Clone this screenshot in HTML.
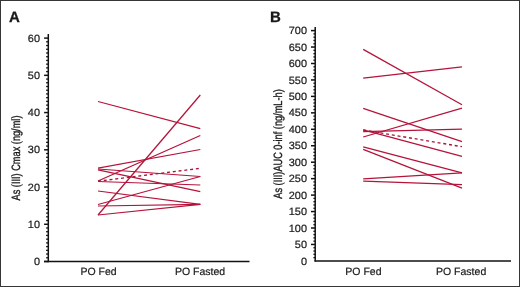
<!DOCTYPE html>
<html><head><meta charset="utf-8"><style>
html,body{margin:0;padding:0;background:#fff;}
body{width:520px;height:287px;overflow:hidden;}
svg{display:block;will-change:transform;}
text{font-family:"Liberation Sans", sans-serif;}
</style></head><body>
<svg width="520" height="287" viewBox="0 0 520 287" text-rendering="geometricPrecision">
<rect x="0" y="0" width="520" height="287" fill="#fff"/>
<rect x="0.5" y="0.5" width="519" height="286" fill="none" stroke="#363636" stroke-width="1"/>

<line x1="48.3" y1="34.0" x2="48.3" y2="262.2" stroke="#111" stroke-width="1.5"/>
<line x1="44.0" y1="261.5" x2="249.5" y2="261.5" stroke="#111" stroke-width="1.5"/>
<line x1="46.1" y1="257.78" x2="48.3" y2="257.78" stroke="#111" stroke-width="1.3"/>
<line x1="46.1" y1="254.05" x2="48.3" y2="254.05" stroke="#111" stroke-width="1.3"/>
<line x1="46.1" y1="250.33" x2="48.3" y2="250.33" stroke="#111" stroke-width="1.3"/>
<line x1="46.1" y1="246.61" x2="48.3" y2="246.61" stroke="#111" stroke-width="1.3"/>
<line x1="46.1" y1="242.88" x2="48.3" y2="242.88" stroke="#111" stroke-width="1.3"/>
<line x1="46.1" y1="239.16" x2="48.3" y2="239.16" stroke="#111" stroke-width="1.3"/>
<line x1="46.1" y1="235.44" x2="48.3" y2="235.44" stroke="#111" stroke-width="1.3"/>
<line x1="46.1" y1="231.71" x2="48.3" y2="231.71" stroke="#111" stroke-width="1.3"/>
<line x1="46.1" y1="227.99" x2="48.3" y2="227.99" stroke="#111" stroke-width="1.3"/>
<line x1="46.1" y1="220.54" x2="48.3" y2="220.54" stroke="#111" stroke-width="1.3"/>
<line x1="46.1" y1="216.82" x2="48.3" y2="216.82" stroke="#111" stroke-width="1.3"/>
<line x1="46.1" y1="213.10" x2="48.3" y2="213.10" stroke="#111" stroke-width="1.3"/>
<line x1="46.1" y1="209.37" x2="48.3" y2="209.37" stroke="#111" stroke-width="1.3"/>
<line x1="46.1" y1="205.65" x2="48.3" y2="205.65" stroke="#111" stroke-width="1.3"/>
<line x1="46.1" y1="201.93" x2="48.3" y2="201.93" stroke="#111" stroke-width="1.3"/>
<line x1="46.1" y1="198.20" x2="48.3" y2="198.20" stroke="#111" stroke-width="1.3"/>
<line x1="46.1" y1="194.48" x2="48.3" y2="194.48" stroke="#111" stroke-width="1.3"/>
<line x1="46.1" y1="190.76" x2="48.3" y2="190.76" stroke="#111" stroke-width="1.3"/>
<line x1="46.1" y1="183.31" x2="48.3" y2="183.31" stroke="#111" stroke-width="1.3"/>
<line x1="46.1" y1="179.59" x2="48.3" y2="179.59" stroke="#111" stroke-width="1.3"/>
<line x1="46.1" y1="175.86" x2="48.3" y2="175.86" stroke="#111" stroke-width="1.3"/>
<line x1="46.1" y1="172.14" x2="48.3" y2="172.14" stroke="#111" stroke-width="1.3"/>
<line x1="46.1" y1="168.42" x2="48.3" y2="168.42" stroke="#111" stroke-width="1.3"/>
<line x1="46.1" y1="164.69" x2="48.3" y2="164.69" stroke="#111" stroke-width="1.3"/>
<line x1="46.1" y1="160.97" x2="48.3" y2="160.97" stroke="#111" stroke-width="1.3"/>
<line x1="46.1" y1="157.25" x2="48.3" y2="157.25" stroke="#111" stroke-width="1.3"/>
<line x1="46.1" y1="153.52" x2="48.3" y2="153.52" stroke="#111" stroke-width="1.3"/>
<line x1="46.1" y1="146.08" x2="48.3" y2="146.08" stroke="#111" stroke-width="1.3"/>
<line x1="46.1" y1="142.35" x2="48.3" y2="142.35" stroke="#111" stroke-width="1.3"/>
<line x1="46.1" y1="138.63" x2="48.3" y2="138.63" stroke="#111" stroke-width="1.3"/>
<line x1="46.1" y1="134.91" x2="48.3" y2="134.91" stroke="#111" stroke-width="1.3"/>
<line x1="46.1" y1="131.18" x2="48.3" y2="131.18" stroke="#111" stroke-width="1.3"/>
<line x1="46.1" y1="127.46" x2="48.3" y2="127.46" stroke="#111" stroke-width="1.3"/>
<line x1="46.1" y1="123.74" x2="48.3" y2="123.74" stroke="#111" stroke-width="1.3"/>
<line x1="46.1" y1="120.01" x2="48.3" y2="120.01" stroke="#111" stroke-width="1.3"/>
<line x1="46.1" y1="116.29" x2="48.3" y2="116.29" stroke="#111" stroke-width="1.3"/>
<line x1="46.1" y1="108.84" x2="48.3" y2="108.84" stroke="#111" stroke-width="1.3"/>
<line x1="46.1" y1="105.12" x2="48.3" y2="105.12" stroke="#111" stroke-width="1.3"/>
<line x1="46.1" y1="101.40" x2="48.3" y2="101.40" stroke="#111" stroke-width="1.3"/>
<line x1="46.1" y1="97.67" x2="48.3" y2="97.67" stroke="#111" stroke-width="1.3"/>
<line x1="46.1" y1="93.95" x2="48.3" y2="93.95" stroke="#111" stroke-width="1.3"/>
<line x1="46.1" y1="90.23" x2="48.3" y2="90.23" stroke="#111" stroke-width="1.3"/>
<line x1="46.1" y1="86.50" x2="48.3" y2="86.50" stroke="#111" stroke-width="1.3"/>
<line x1="46.1" y1="82.78" x2="48.3" y2="82.78" stroke="#111" stroke-width="1.3"/>
<line x1="46.1" y1="79.06" x2="48.3" y2="79.06" stroke="#111" stroke-width="1.3"/>
<line x1="46.1" y1="71.61" x2="48.3" y2="71.61" stroke="#111" stroke-width="1.3"/>
<line x1="46.1" y1="67.89" x2="48.3" y2="67.89" stroke="#111" stroke-width="1.3"/>
<line x1="46.1" y1="64.16" x2="48.3" y2="64.16" stroke="#111" stroke-width="1.3"/>
<line x1="46.1" y1="60.44" x2="48.3" y2="60.44" stroke="#111" stroke-width="1.3"/>
<line x1="46.1" y1="56.72" x2="48.3" y2="56.72" stroke="#111" stroke-width="1.3"/>
<line x1="46.1" y1="52.99" x2="48.3" y2="52.99" stroke="#111" stroke-width="1.3"/>
<line x1="46.1" y1="49.27" x2="48.3" y2="49.27" stroke="#111" stroke-width="1.3"/>
<line x1="46.1" y1="45.55" x2="48.3" y2="45.55" stroke="#111" stroke-width="1.3"/>
<line x1="46.1" y1="41.82" x2="48.3" y2="41.82" stroke="#111" stroke-width="1.3"/>
<line x1="44.1" y1="261.50" x2="48.3" y2="261.50" stroke="#111" stroke-width="1.5"/>
<line x1="44.1" y1="224.27" x2="48.3" y2="224.27" stroke="#111" stroke-width="1.5"/>
<line x1="44.1" y1="187.03" x2="48.3" y2="187.03" stroke="#111" stroke-width="1.5"/>
<line x1="44.1" y1="149.80" x2="48.3" y2="149.80" stroke="#111" stroke-width="1.5"/>
<line x1="44.1" y1="112.57" x2="48.3" y2="112.57" stroke="#111" stroke-width="1.5"/>
<line x1="44.1" y1="75.33" x2="48.3" y2="75.33" stroke="#111" stroke-width="1.5"/>
<line x1="44.1" y1="38.10" x2="48.3" y2="38.10" stroke="#111" stroke-width="1.5"/>
<text transform="translate(40.0,265.10) scale(1.04,1)" font-size="10.5" text-anchor="end" fill="#1a1a1a" stroke="#1a1a1a" stroke-width="0.2">0</text>
<text transform="translate(40.0,227.87) scale(1.04,1)" font-size="10.5" text-anchor="end" fill="#1a1a1a" stroke="#1a1a1a" stroke-width="0.2">10</text>
<text transform="translate(40.0,190.63) scale(1.04,1)" font-size="10.5" text-anchor="end" fill="#1a1a1a" stroke="#1a1a1a" stroke-width="0.2">20</text>
<text transform="translate(40.0,153.40) scale(1.04,1)" font-size="10.5" text-anchor="end" fill="#1a1a1a" stroke="#1a1a1a" stroke-width="0.2">30</text>
<text transform="translate(40.0,116.17) scale(1.04,1)" font-size="10.5" text-anchor="end" fill="#1a1a1a" stroke="#1a1a1a" stroke-width="0.2">40</text>
<text transform="translate(40.0,78.93) scale(1.04,1)" font-size="10.5" text-anchor="end" fill="#1a1a1a" stroke="#1a1a1a" stroke-width="0.2">50</text>
<text transform="translate(40.0,41.70) scale(1.04,1)" font-size="10.5" text-anchor="end" fill="#1a1a1a" stroke="#1a1a1a" stroke-width="0.2">60</text>
<line x1="315.2" y1="27.0" x2="315.2" y2="261.59999999999997" stroke="#111" stroke-width="1.5"/>
<line x1="314.5" y1="260.9" x2="511.0" y2="260.9" stroke="#111" stroke-width="1.5"/>
<line x1="313.4" y1="257.61" x2="315.2" y2="257.61" stroke="#111" stroke-width="1.3"/>
<line x1="313.4" y1="254.32" x2="315.2" y2="254.32" stroke="#111" stroke-width="1.3"/>
<line x1="313.4" y1="251.03" x2="315.2" y2="251.03" stroke="#111" stroke-width="1.3"/>
<line x1="313.4" y1="247.74" x2="315.2" y2="247.74" stroke="#111" stroke-width="1.3"/>
<line x1="313.4" y1="241.16" x2="315.2" y2="241.16" stroke="#111" stroke-width="1.3"/>
<line x1="313.4" y1="237.87" x2="315.2" y2="237.87" stroke="#111" stroke-width="1.3"/>
<line x1="313.4" y1="234.58" x2="315.2" y2="234.58" stroke="#111" stroke-width="1.3"/>
<line x1="313.4" y1="231.29" x2="315.2" y2="231.29" stroke="#111" stroke-width="1.3"/>
<line x1="313.4" y1="224.71" x2="315.2" y2="224.71" stroke="#111" stroke-width="1.3"/>
<line x1="313.4" y1="221.42" x2="315.2" y2="221.42" stroke="#111" stroke-width="1.3"/>
<line x1="313.4" y1="218.13" x2="315.2" y2="218.13" stroke="#111" stroke-width="1.3"/>
<line x1="313.4" y1="214.84" x2="315.2" y2="214.84" stroke="#111" stroke-width="1.3"/>
<line x1="313.4" y1="208.26" x2="315.2" y2="208.26" stroke="#111" stroke-width="1.3"/>
<line x1="313.4" y1="204.97" x2="315.2" y2="204.97" stroke="#111" stroke-width="1.3"/>
<line x1="313.4" y1="201.68" x2="315.2" y2="201.68" stroke="#111" stroke-width="1.3"/>
<line x1="313.4" y1="198.39" x2="315.2" y2="198.39" stroke="#111" stroke-width="1.3"/>
<line x1="313.4" y1="191.81" x2="315.2" y2="191.81" stroke="#111" stroke-width="1.3"/>
<line x1="313.4" y1="188.52" x2="315.2" y2="188.52" stroke="#111" stroke-width="1.3"/>
<line x1="313.4" y1="185.23" x2="315.2" y2="185.23" stroke="#111" stroke-width="1.3"/>
<line x1="313.4" y1="181.94" x2="315.2" y2="181.94" stroke="#111" stroke-width="1.3"/>
<line x1="313.4" y1="175.36" x2="315.2" y2="175.36" stroke="#111" stroke-width="1.3"/>
<line x1="313.4" y1="172.07" x2="315.2" y2="172.07" stroke="#111" stroke-width="1.3"/>
<line x1="313.4" y1="168.78" x2="315.2" y2="168.78" stroke="#111" stroke-width="1.3"/>
<line x1="313.4" y1="165.49" x2="315.2" y2="165.49" stroke="#111" stroke-width="1.3"/>
<line x1="313.4" y1="158.91" x2="315.2" y2="158.91" stroke="#111" stroke-width="1.3"/>
<line x1="313.4" y1="155.62" x2="315.2" y2="155.62" stroke="#111" stroke-width="1.3"/>
<line x1="313.4" y1="152.33" x2="315.2" y2="152.33" stroke="#111" stroke-width="1.3"/>
<line x1="313.4" y1="149.04" x2="315.2" y2="149.04" stroke="#111" stroke-width="1.3"/>
<line x1="313.4" y1="142.46" x2="315.2" y2="142.46" stroke="#111" stroke-width="1.3"/>
<line x1="313.4" y1="139.17" x2="315.2" y2="139.17" stroke="#111" stroke-width="1.3"/>
<line x1="313.4" y1="135.88" x2="315.2" y2="135.88" stroke="#111" stroke-width="1.3"/>
<line x1="313.4" y1="132.59" x2="315.2" y2="132.59" stroke="#111" stroke-width="1.3"/>
<line x1="313.4" y1="126.01" x2="315.2" y2="126.01" stroke="#111" stroke-width="1.3"/>
<line x1="313.4" y1="122.72" x2="315.2" y2="122.72" stroke="#111" stroke-width="1.3"/>
<line x1="313.4" y1="119.43" x2="315.2" y2="119.43" stroke="#111" stroke-width="1.3"/>
<line x1="313.4" y1="116.14" x2="315.2" y2="116.14" stroke="#111" stroke-width="1.3"/>
<line x1="313.4" y1="109.56" x2="315.2" y2="109.56" stroke="#111" stroke-width="1.3"/>
<line x1="313.4" y1="106.27" x2="315.2" y2="106.27" stroke="#111" stroke-width="1.3"/>
<line x1="313.4" y1="102.98" x2="315.2" y2="102.98" stroke="#111" stroke-width="1.3"/>
<line x1="313.4" y1="99.69" x2="315.2" y2="99.69" stroke="#111" stroke-width="1.3"/>
<line x1="313.4" y1="93.11" x2="315.2" y2="93.11" stroke="#111" stroke-width="1.3"/>
<line x1="313.4" y1="89.82" x2="315.2" y2="89.82" stroke="#111" stroke-width="1.3"/>
<line x1="313.4" y1="86.53" x2="315.2" y2="86.53" stroke="#111" stroke-width="1.3"/>
<line x1="313.4" y1="83.24" x2="315.2" y2="83.24" stroke="#111" stroke-width="1.3"/>
<line x1="313.4" y1="76.66" x2="315.2" y2="76.66" stroke="#111" stroke-width="1.3"/>
<line x1="313.4" y1="73.37" x2="315.2" y2="73.37" stroke="#111" stroke-width="1.3"/>
<line x1="313.4" y1="70.08" x2="315.2" y2="70.08" stroke="#111" stroke-width="1.3"/>
<line x1="313.4" y1="66.79" x2="315.2" y2="66.79" stroke="#111" stroke-width="1.3"/>
<line x1="313.4" y1="60.21" x2="315.2" y2="60.21" stroke="#111" stroke-width="1.3"/>
<line x1="313.4" y1="56.92" x2="315.2" y2="56.92" stroke="#111" stroke-width="1.3"/>
<line x1="313.4" y1="53.63" x2="315.2" y2="53.63" stroke="#111" stroke-width="1.3"/>
<line x1="313.4" y1="50.34" x2="315.2" y2="50.34" stroke="#111" stroke-width="1.3"/>
<line x1="313.4" y1="43.76" x2="315.2" y2="43.76" stroke="#111" stroke-width="1.3"/>
<line x1="313.4" y1="40.47" x2="315.2" y2="40.47" stroke="#111" stroke-width="1.3"/>
<line x1="313.4" y1="37.18" x2="315.2" y2="37.18" stroke="#111" stroke-width="1.3"/>
<line x1="313.4" y1="33.89" x2="315.2" y2="33.89" stroke="#111" stroke-width="1.3"/>
<line x1="311.0" y1="244.45" x2="315.2" y2="244.45" stroke="#111" stroke-width="1.5"/>
<line x1="311.0" y1="228.00" x2="315.2" y2="228.00" stroke="#111" stroke-width="1.5"/>
<line x1="311.0" y1="211.55" x2="315.2" y2="211.55" stroke="#111" stroke-width="1.5"/>
<line x1="311.0" y1="195.10" x2="315.2" y2="195.10" stroke="#111" stroke-width="1.5"/>
<line x1="311.0" y1="178.65" x2="315.2" y2="178.65" stroke="#111" stroke-width="1.5"/>
<line x1="311.0" y1="162.20" x2="315.2" y2="162.20" stroke="#111" stroke-width="1.5"/>
<line x1="311.0" y1="145.75" x2="315.2" y2="145.75" stroke="#111" stroke-width="1.5"/>
<line x1="311.0" y1="129.30" x2="315.2" y2="129.30" stroke="#111" stroke-width="1.5"/>
<line x1="311.0" y1="112.85" x2="315.2" y2="112.85" stroke="#111" stroke-width="1.5"/>
<line x1="311.0" y1="96.40" x2="315.2" y2="96.40" stroke="#111" stroke-width="1.5"/>
<line x1="311.0" y1="79.95" x2="315.2" y2="79.95" stroke="#111" stroke-width="1.5"/>
<line x1="311.0" y1="63.50" x2="315.2" y2="63.50" stroke="#111" stroke-width="1.5"/>
<line x1="311.0" y1="47.05" x2="315.2" y2="47.05" stroke="#111" stroke-width="1.5"/>
<line x1="311.0" y1="30.60" x2="315.2" y2="30.60" stroke="#111" stroke-width="1.5"/>
<text transform="translate(307.0,264.50) scale(1.04,1)" font-size="10.5" text-anchor="end" fill="#1a1a1a" stroke="#1a1a1a" stroke-width="0.2">0</text>
<text transform="translate(307.0,248.05) scale(1.04,1)" font-size="10.5" text-anchor="end" fill="#1a1a1a" stroke="#1a1a1a" stroke-width="0.2">50</text>
<text transform="translate(307.0,231.60) scale(1.04,1)" font-size="10.5" text-anchor="end" fill="#1a1a1a" stroke="#1a1a1a" stroke-width="0.2">100</text>
<text transform="translate(307.0,215.15) scale(1.04,1)" font-size="10.5" text-anchor="end" fill="#1a1a1a" stroke="#1a1a1a" stroke-width="0.2">150</text>
<text transform="translate(307.0,198.70) scale(1.04,1)" font-size="10.5" text-anchor="end" fill="#1a1a1a" stroke="#1a1a1a" stroke-width="0.2">200</text>
<text transform="translate(307.0,182.25) scale(1.04,1)" font-size="10.5" text-anchor="end" fill="#1a1a1a" stroke="#1a1a1a" stroke-width="0.2">250</text>
<text transform="translate(307.0,165.80) scale(1.04,1)" font-size="10.5" text-anchor="end" fill="#1a1a1a" stroke="#1a1a1a" stroke-width="0.2">300</text>
<text transform="translate(307.0,149.35) scale(1.04,1)" font-size="10.5" text-anchor="end" fill="#1a1a1a" stroke="#1a1a1a" stroke-width="0.2">350</text>
<text transform="translate(307.0,132.90) scale(1.04,1)" font-size="10.5" text-anchor="end" fill="#1a1a1a" stroke="#1a1a1a" stroke-width="0.2">400</text>
<text transform="translate(307.0,116.45) scale(1.04,1)" font-size="10.5" text-anchor="end" fill="#1a1a1a" stroke="#1a1a1a" stroke-width="0.2">450</text>
<text transform="translate(307.0,100.00) scale(1.04,1)" font-size="10.5" text-anchor="end" fill="#1a1a1a" stroke="#1a1a1a" stroke-width="0.2">500</text>
<text transform="translate(307.0,83.55) scale(1.04,1)" font-size="10.5" text-anchor="end" fill="#1a1a1a" stroke="#1a1a1a" stroke-width="0.2">550</text>
<text transform="translate(307.0,67.10) scale(1.04,1)" font-size="10.5" text-anchor="end" fill="#1a1a1a" stroke="#1a1a1a" stroke-width="0.2">600</text>
<text transform="translate(307.0,50.65) scale(1.04,1)" font-size="10.5" text-anchor="end" fill="#1a1a1a" stroke="#1a1a1a" stroke-width="0.2">650</text>
<text transform="translate(307.0,34.20) scale(1.04,1)" font-size="10.5" text-anchor="end" fill="#1a1a1a" stroke="#1a1a1a" stroke-width="0.2">700</text>
<text x="9" y="21.9" font-size="15" font-weight="bold" fill="#1a1a1a" stroke="#1a1a1a" stroke-width="0.3">A</text>
<text x="270" y="21.9" font-size="15" font-weight="bold" fill="#1a1a1a" stroke="#1a1a1a" stroke-width="0.3">B</text>
<text x="80.54" y="274.5" font-size="10.5" fill="#1a1a1a" stroke="#1a1a1a" stroke-width="0.2">PO Fed</text>
<text x="174.94" y="274.5" font-size="10.5" fill="#1a1a1a" stroke="#1a1a1a" stroke-width="0.2">PO Fasted</text>
<text x="345.34" y="274.5" font-size="10.5" fill="#1a1a1a" stroke="#1a1a1a" stroke-width="0.2">PO Fed</text>
<text x="436.04" y="274.5" font-size="10.5" fill="#1a1a1a" stroke="#1a1a1a" stroke-width="0.2">PO Fasted</text>
<text transform="translate(19.7,158) rotate(-90) scale(0.767,1)" font-size="12" text-anchor="middle" fill="#1a1a1a" stroke="#1a1a1a" stroke-width="0.35">As (III) Cmax (ng/ml)</text>
<text transform="translate(281.7,144) rotate(-90) scale(0.767,1)" font-size="12" text-anchor="middle" fill="#1a1a1a" stroke="#1a1a1a" stroke-width="0.35">As (III)AUC 0-inf (ng/mL-h)</text>
<line x1="98.0" y1="101.5" x2="200.3" y2="128.6" stroke="#b5133a" stroke-width="1.25"/>
<line x1="98.0" y1="215" x2="200.3" y2="95" stroke="#b5133a" stroke-width="1.25"/>
<line x1="98.0" y1="168.2" x2="200.3" y2="149.5" stroke="#b5133a" stroke-width="1.25"/>
<line x1="98.0" y1="169" x2="200.3" y2="176.5" stroke="#b5133a" stroke-width="1.25"/>
<line x1="98.0" y1="169.8" x2="200.3" y2="191.6" stroke="#b5133a" stroke-width="1.25"/>
<line x1="98.0" y1="181" x2="200.3" y2="135.5" stroke="#b5133a" stroke-width="1.25"/>
<line x1="98.0" y1="181.5" x2="200.3" y2="185" stroke="#b5133a" stroke-width="1.25"/>
<line x1="98.0" y1="204.5" x2="200.3" y2="176.5" stroke="#b5133a" stroke-width="1.25"/>
<line x1="98.0" y1="191" x2="200.3" y2="204.4" stroke="#b5133a" stroke-width="1.25"/>
<line x1="98.0" y1="206" x2="200.3" y2="204.4" stroke="#b5133a" stroke-width="1.25"/>
<line x1="98.0" y1="215" x2="200.3" y2="204.4" stroke="#b5133a" stroke-width="1.25"/>
<line x1="98.0" y1="181.2" x2="200.3" y2="168.3" stroke="#a8163c" stroke-width="1.35" stroke-dasharray="3,2.8"/>
<line x1="363.2" y1="49.4" x2="462.0" y2="104.8" stroke="#b5133a" stroke-width="1.25"/>
<line x1="363.2" y1="78.1" x2="462.0" y2="66.9" stroke="#b5133a" stroke-width="1.25"/>
<line x1="363.2" y1="108.4" x2="462.0" y2="141.6" stroke="#b5133a" stroke-width="1.25"/>
<line x1="363.2" y1="131.6" x2="462.0" y2="129.1" stroke="#b5133a" stroke-width="1.25"/>
<line x1="363.2" y1="129.8" x2="462.0" y2="156.3" stroke="#b5133a" stroke-width="1.25"/>
<line x1="363.2" y1="137" x2="462.0" y2="108.1" stroke="#b5133a" stroke-width="1.25"/>
<line x1="363.2" y1="146.8" x2="462.0" y2="172.8" stroke="#b5133a" stroke-width="1.25"/>
<line x1="363.2" y1="149.3" x2="462.0" y2="188.2" stroke="#b5133a" stroke-width="1.25"/>
<line x1="363.2" y1="178.9" x2="462.0" y2="172.8" stroke="#b5133a" stroke-width="1.25"/>
<line x1="363.2" y1="181.2" x2="462.0" y2="184.7" stroke="#b5133a" stroke-width="1.25"/>
<line x1="363.2" y1="130" x2="462.0" y2="146.7" stroke="#a8163c" stroke-width="1.35" stroke-dasharray="3,2.8"/>
</svg></body></html>
